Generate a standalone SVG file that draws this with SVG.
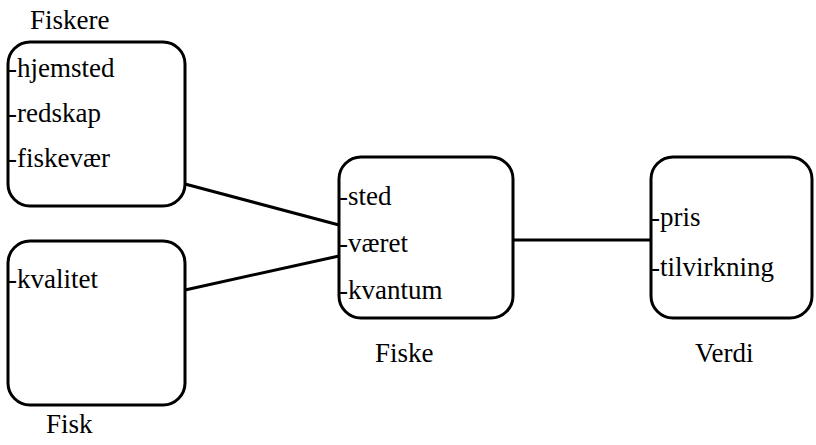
<svg xmlns="http://www.w3.org/2000/svg" width="816" height="445" viewBox="0 0 816 445">
<style>
.box{fill:#fff;stroke:#000;stroke-width:3}
.t{font-family:'Liberation Serif','Times New Roman',serif;font-size:27px;fill:#000}
.c{stroke:#000;stroke-width:3;fill:none}
</style>
<rect width="816" height="445" fill="#fff"/>
<g id="connectors">
<line class="c" x1="185" y1="184" x2="339" y2="225"/>
<line class="c" x1="185" y1="290" x2="339" y2="256"/>
<line class="c" x1="513" y1="240" x2="651" y2="240"/>
</g>
<g id="fiskere">
<rect class="box" x="8" y="42" width="177" height="164" rx="22"/>
<text class="t" x="30" y="29">Fiskere</text>
<text class="t" x="8" y="77">-hjemsted</text>
<text class="t" x="8" y="122">-redskap</text>
<text class="t" x="8" y="167">-fiskevær</text>
</g>
<g id="fisk">
<rect class="box" x="8" y="241" width="177" height="164" rx="22"/>
<text class="t" x="8" y="288">-kvalitet</text>
<text class="t" x="46" y="433">Fisk</text>
</g>
<g id="fiske">
<rect class="box" x="339" y="157" width="174" height="161" rx="22"/>
<text class="t" x="339" y="205">-sted</text>
<text class="t" x="339" y="252">-været</text>
<text class="t" x="339" y="299">-kvantum</text>
<text class="t" x="375" y="362">Fiske</text>
</g>
<g id="verdi">
<rect class="box" x="651" y="157" width="161" height="161" rx="22"/>
<text class="t" x="651" y="226">-pris</text>
<text class="t" x="651" y="276">-tilvirkning</text>
<text class="t" x="695" y="362">Verdi</text>
</g>
</svg>
